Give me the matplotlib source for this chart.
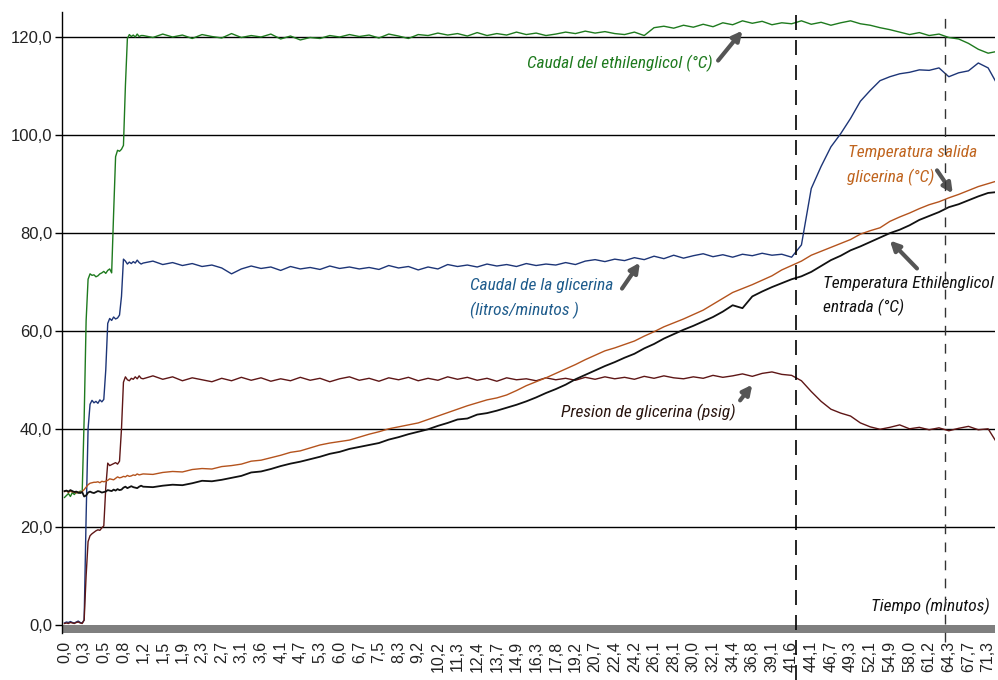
import numpy as np
import matplotlib
matplotlib.use("Agg")
import matplotlib.pyplot as plt
from matplotlib import font_manager

# eje x categórico: índice de muestra (fino al arranque, luego cada media etiqueta)
u_fino = np.round(np.arange(0.0, 4.0, 0.1), 2)
u_grueso = np.arange(4.0, 47.51, 0.5)
u = np.concatenate([u_fino, u_grueso])

etiquetas_tiempo = ["0,0", "0,3", "0,5", "0,8", "1,2", "1,5", "1,9", "2,3", "2,7", "3,1",
                    "3,6", "4,1", "4,7", "5,3", "6,0", "6,7", "7,5", "8,3", "9,2", "10,2",
                    "11,3", "12,4", "13,7", "14,9", "16,3", "17,8", "19,2", "20,7", "22,4", "24,2",
                    "26,1", "28,1", "30,0", "32,1", "34,4", "36,8", "39,1", "41,6", "44,1", "46,7",
                    "49,3", "52,1", "54,9", "58,0", "61,2", "64,3", "67,7", "71,3"]

# Caudal del ethilenglicol
caudal_eg = [26.0, 26.4, 26.8, 26.2, 27.0, 26.6, 27.1, 26.9, 27.3, 27.0,
             42.0, 62.0, 70.5, 71.6, 71.3, 71.4, 71.0, 71.2, 71.6, 71.8,
             72.1, 71.7, 72.3, 72.6, 71.8, 84.0, 95.5, 96.8, 96.6, 97.0,
             97.8, 110.0, 119.6, 120.4, 120.0, 120.3, 119.9, 120.5, 120.0, 120.2,
             120.2, 119.8, 120.5, 119.9, 120.3, 119.6, 120.4, 120.0, 119.7, 120.6,
             119.8, 120.2, 119.9, 120.5, 119.5, 120.1, 119.3, 119.8, 119.6, 120.2,
             119.9, 120.4, 120.0, 120.3, 119.7, 120.5, 120.1, 119.6, 120.4, 120.2,
             120.7, 120.3, 120.6, 120.1, 120.8, 120.2, 120.6, 120.3, 120.9, 120.4,
             120.7, 120.2, 120.5, 120.9, 120.6, 121.1, 120.7, 121.0, 120.6, 120.4,
             120.9, 120.2, 121.8, 122.1, 121.7, 122.3, 121.9, 122.5, 122.0, 122.8,
             122.4, 123.2, 122.7, 123.1, 122.4, 122.8, 122.6, 123.2, 122.5, 122.9,
             122.3, 122.8, 123.2, 122.6, 122.3, 121.8, 121.4, 120.9, 120.4, 120.8,
             120.2, 120.5, 119.8, 119.5, 118.6, 117.4, 116.6, 117.0]

# Caudal de la glicerina
caudal_gli = [0.4, 0.6, 0.5, 0.7, 0.5, 0.4, 0.6, 0.8, 0.5, 0.4,
              1.0, 22.0, 40.0, 45.0, 45.8, 45.3, 45.6, 45.2, 45.9, 45.5,
              46.0, 52.0, 61.5, 62.5, 62.1, 62.8, 62.4, 62.6, 63.2, 67.0,
              74.6, 74.2, 73.6, 74.0, 73.7, 74.1, 73.8, 74.4, 73.9, 73.6,
              73.8, 74.2, 73.5, 73.9, 73.3, 73.7, 73.1, 73.4, 72.8, 71.6,
              72.6, 73.2, 72.7, 73.0, 72.3, 73.1, 72.6, 72.9, 72.5, 73.2,
              72.7, 73.0, 72.6, 72.9, 72.5, 73.3, 72.8, 73.1, 72.4, 73.0,
              72.6, 73.5, 73.1, 73.4, 73.0, 73.6, 73.2, 73.5, 73.1, 73.7,
              73.3, 73.6, 73.4, 73.9, 73.5, 74.2, 74.5, 74.1, 74.6, 74.3,
              74.9, 74.5, 75.2, 74.7, 75.4, 74.8, 75.3, 75.7, 75.1, 75.5,
              75.0, 75.6, 75.3, 75.8, 75.4, 75.6, 75.0, 77.5, 89.0, 93.5,
              97.5, 100.2, 103.3, 106.8, 109.0, 111.0, 111.8, 112.4, 112.7, 113.2,
              113.1, 113.6, 111.8, 112.6, 113.0, 114.6, 113.6, 110.0]

# Presion de glicerina
presion = [0.3, 0.4, 0.3, 0.5, 0.4, 0.3, 0.5, 0.6, 0.4, 0.3,
           1.0, 10.0, 17.0, 18.2, 18.6, 18.9, 19.2, 19.4, 19.3, 19.8,
           20.2, 28.0, 33.0, 32.5, 32.7, 32.9, 33.1, 32.8, 33.4, 40.0,
           49.5, 50.6, 50.0, 49.8, 50.3, 50.1, 50.6, 50.2, 50.8, 50.3,
           50.2, 50.8, 50.1, 50.6, 49.8, 50.4, 50.0, 49.6, 50.3, 49.8,
           50.5, 49.9, 50.4, 49.7, 50.2, 49.8, 50.5, 49.9, 50.3, 49.6,
           50.2, 50.6, 49.9, 50.3, 49.7, 50.4, 50.0, 50.5, 49.8, 50.3,
           49.9, 50.6, 50.1, 50.5, 49.9, 50.3, 49.7, 50.4, 50.0, 50.2,
           49.8, 50.4, 50.0, 50.3, 49.9, 50.5, 50.1, 50.6, 50.2, 50.5,
           50.1, 50.7, 50.3, 50.8, 50.4, 50.2, 50.6, 50.3, 50.9, 50.5,
           50.8, 51.2, 50.7, 51.3, 51.6, 51.1, 50.9, 49.8, 47.6, 45.6,
           44.0, 43.2, 42.6, 41.2, 40.4, 39.9, 40.3, 40.8, 40.0, 40.3,
           39.8, 40.2, 39.6, 40.1, 40.5, 39.8, 40.0, 36.8]

# Temperatura salida glicerina
t_salida_gli = [27.2, 27.4, 27.0, 27.3, 27.1, 27.2, 26.9, 27.1, 27.0, 27.2,
                27.6, 28.1, 28.6, 28.9, 29.0, 29.1, 29.1, 29.2, 29.0, 29.3,
                29.2, 29.3, 29.5, 29.8, 29.7, 29.6, 29.9, 30.2, 30.0, 30.1,
                30.3, 30.2, 30.5, 30.3, 30.4, 30.6, 30.5, 30.8, 30.6, 30.7,
                30.8, 30.7, 31.1, 31.3, 31.2, 31.7, 31.9, 31.8, 32.3, 32.5,
                32.8, 33.4, 33.6, 34.1, 34.6, 35.2, 35.5, 36.1, 36.7, 37.1,
                37.4, 37.7, 38.3, 38.9, 39.4, 40.0, 40.4, 40.8, 41.2, 41.9,
                42.6, 43.3, 44.0, 44.7, 45.3, 45.9, 46.3, 46.9, 47.8, 48.8,
                49.6, 50.4, 51.3, 52.2, 53.1, 54.1, 55.0, 55.9, 56.5, 57.2,
                57.9, 58.9, 59.8, 60.8, 61.6, 62.4, 63.3, 64.2, 65.4, 66.6,
                67.8, 68.6, 69.4, 70.3, 71.2, 72.4, 73.3, 74.2, 75.4, 76.2,
                77.0, 77.8, 78.6, 79.7, 80.4, 81.0, 82.3, 83.2, 84.0, 84.9,
                85.7, 86.3, 87.1, 87.8, 88.6, 89.4, 90.0, 90.6]

# Temperatura Ethilenglicol entrada
t_entrada_eg = [27.3, 27.4, 27.2, 27.5, 27.3, 27.1, 27.2, 27.0, 26.9, 27.1,
                26.2, 26.4, 27.0, 27.2, 27.0, 26.9, 27.1, 27.3, 27.2, 27.0,
                27.1, 27.2, 27.5, 27.4, 27.3, 27.6, 27.4, 27.7, 27.5, 27.6,
                28.0, 28.2, 27.9, 28.1, 28.3, 28.1, 28.0, 27.9, 28.2, 28.4,
                28.2, 28.1, 28.4, 28.6, 28.5, 28.9, 29.4, 29.3, 29.6, 30.0,
                30.4, 31.1, 31.3, 31.8, 32.4, 32.9, 33.3, 33.8, 34.3, 34.9,
                35.3, 35.9, 36.3, 36.7, 37.1, 37.8, 38.3, 38.9, 39.4, 39.9,
                40.6, 41.2, 41.9, 42.1, 42.9, 43.2, 43.7, 44.3, 44.9, 45.6,
                46.4, 47.3, 48.1, 49.0, 50.1, 51.0, 51.9, 52.8, 53.6, 54.5,
                55.3, 56.4, 57.3, 58.4, 59.3, 60.2, 61.0, 61.9, 62.8, 63.9,
                65.2, 64.6, 67.0, 68.0, 68.9, 69.7, 70.5, 71.1, 72.0, 73.2,
                74.4, 75.3, 76.4, 77.2, 78.1, 79.0, 79.9, 80.6, 81.5, 82.6,
                83.4, 84.2, 85.2, 85.8, 86.6, 87.4, 88.1, 88.3]

y_ticks = [0, 20, 40, 60, 80, 100, 120]

# fuente estrecha si existe; si no, Liberation Sans a menor tamaño
instaladas = {f.name for f in font_manager.fontManager.ttflist}
estrechas = [n for n in ["Liberation Sans Narrow", "DejaVu Sans Condensed", "Roboto Condensed"]
             if n in instaladas]
if estrechas:
    fuente = [estrechas[0], "DejaVu Sans"]
    tam = 12.5
else:
    fuente = ["Liberation Sans", "DejaVu Sans"]
    tam = 11

plt.rcParams["font.family"] = ["Liberation Sans", "DejaVu Sans"]

fig = plt.figure(figsize=(9.98, 6.8), dpi=100)
ax = fig.add_axes([62 / 998, 47.2 / 680, 933 / 998, 620.8 / 680])

ax.set_xlim(-0.127, 47.35)
ax.set_ylim(-1.6, 125)

# rejilla horizontal y barra gris del eje
for yv in y_ticks[1:]:
    ax.axhline(yv, color="black", lw=1.0, zorder=1)
ax.axhspan(-1.6, 0, color="#7f7f7f", lw=0, zorder=2)

ax.plot(u, caudal_eg, color="#1e7a1e", lw=1.0, zorder=3)
ax.plot(u, caudal_gli, color="#1d3577", lw=1.0, zorder=3)
ax.plot(u, presion, color="#5e1616", lw=1.0, zorder=3)
ax.plot(u, t_salida_gli, color="#b4531d", lw=1.0, zorder=3)
ax.plot(u, t_entrada_eg, color="#111111", lw=1.3, zorder=4)

# líneas verticales discontinuas
ax.axvline(37.2, ymin=-0.076, ymax=1.0, clip_on=False, color="black", lw=1.2,
           dashes=(9, 6), zorder=5)
ax.axvline(44.8, ymin=-0.015, ymax=0.99, clip_on=False, color="#333333", lw=1.0,
           dashes=(7, 6), zorder=5)

ax.set_yticks(y_ticks)
ax.set_yticklabels([f"{v:.1f}".replace(".", ",") for v in y_ticks], fontsize=12, color="#222222")
ax.set_xticks(range(len(etiquetas_tiempo)))
ax.set_xticklabels(etiquetas_tiempo, rotation=90, fontsize=11.5, color="#222222")
ax.tick_params(axis="x", length=0, pad=6)
ax.tick_params(axis="y", length=5, width=1, color="black", pad=2)

for s in ["top", "right", "bottom"]:
    ax.spines[s].set_visible(False)
ax.spines["left"].set_color("black")
ax.spines["left"].set_linewidth(1.0)

flecha = dict(arrowstyle="-|>", color="#555555", lw=3, mutation_scale=14,
              shrinkA=0, shrinkB=0)
estilo = dict(fontsize=tam, style="italic", family=fuente, va="center")

ax.text(28.27, 114.5, "Caudal del ethilenglicol (°C)", color="#1e7a1e", ha="center", **estilo)
ax.annotate("", xy=(34.5, 121.2), xytext=(33.26, 115.1), arrowprops=flecha)

ax.text(20.64, 69.2, "Caudal de la glicerina", color="#1f5c8c", ha="left", **estilo)
ax.text(20.64, 64.2, "(litros/minutos )", color="#1f5c8c", ha="left", **estilo)
ax.annotate("", xy=(29.28, 73.9), xytext=(28.37, 68.6), arrowprops=flecha)

ax.text(29.7, 43.4, "Presion de glicerina (psig)", color="#2a1610", ha="center", **estilo)
ax.annotate("", xy=(35.0, 49.0), xytext=(34.38, 45.8), arrowprops=flecha)

ax.text(39.87, 96.3, "Temperatura salida", color="#c0651f", ha="left", **estilo)
ax.text(39.82, 91.2, "glicerina (°C)", color="#c0651f", ha="left", **estilo)
ax.annotate("", xy=(45.2, 88.0), xytext=(44.4, 92.7), arrowprops=flecha)

ax.text(38.6, 69.7, "Temperatura Ethilenglicol", color="#111111", ha="left", **estilo)
ax.text(38.6, 64.8, "entrada (°C)", color="#111111", ha="left", **estilo)
ax.annotate("", xy=(42.0, 78.4), xytext=(43.38, 72.7), arrowprops=flecha)

ax.text(47.1, 3.7, "Tiempo (minutos)", color="#111111", ha="right", **estilo)

fig.savefig("out.png", dpi=100)
